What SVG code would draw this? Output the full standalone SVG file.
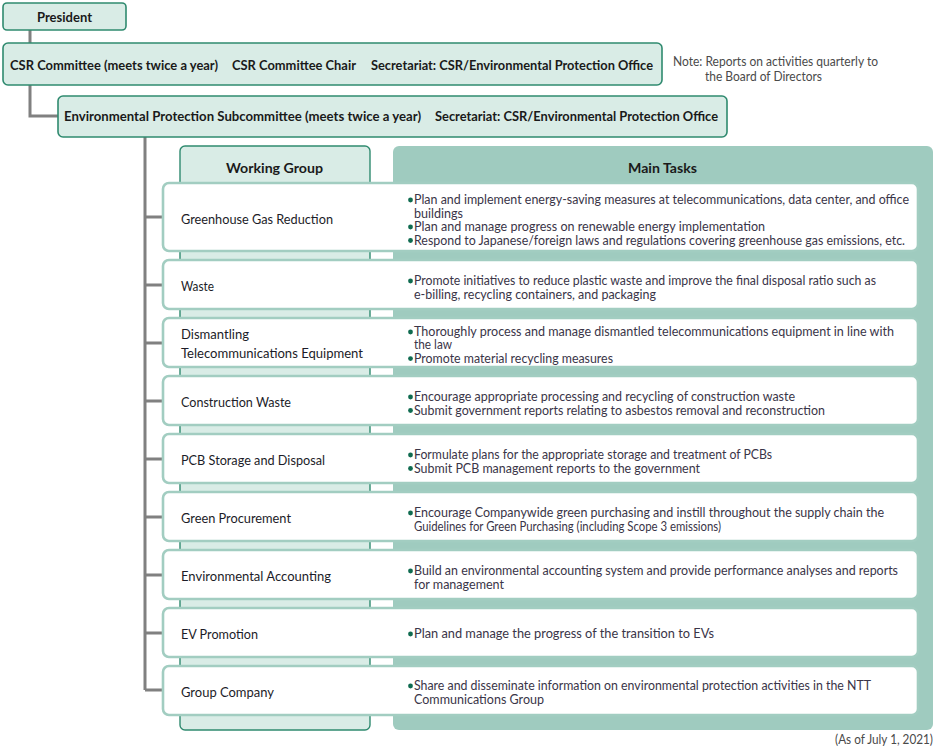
<svg xmlns="http://www.w3.org/2000/svg" width="938" height="752" viewBox="0 0 938 752">
<style>
.hbox{fill:#d9ece6;stroke:#2f8a6f;stroke-width:1.6}
.col{fill:#d9ece6;stroke:#2f8a6f;stroke-width:1.4}
.tcol{fill:#9fcbbf}
.card{fill:#ffffff;stroke:#a2cdc1;stroke-width:2.6}
.conn{fill:none;stroke:#808080;stroke-width:3}
text{font-family:Lato,"Liberation Sans",Arial,sans-serif}
.hb{font-size:13px;font-weight:bold;fill:#1a1a1a}
.hd{font-size:14px;font-weight:bold;fill:#1a1a1a}
.lab{font-size:14px;fill:#1c1c28}
.task{font-size:12.5px;fill:#3a3548}
.note{font-size:12.5px;fill:#4a4a4a}
.dot{fill:#0f6b50}
</style>

<g id="connectors">
<path class="conn" d="M30 30V43M30 85V116H58"/>
<path class="conn" d="M145 137V690M145 217H163M145 285H163M145 343H163M145 401H163M145 459H163M145 517H163M145 575H163M145 633H163M145 690H163"/>
</g>

<g id="president">
<rect class="hbox" x="3" y="3" width="123" height="27" rx="4"/>
<text class="hb" x="37" y="21.5" textLength="55" lengthAdjust="spacingAndGlyphs">President</text>
</g>

<g id="csr-committee">
<rect class="hbox" x="3" y="43" width="659" height="42" rx="5"/>
<text class="hb" x="10" y="70" textLength="208" lengthAdjust="spacingAndGlyphs">CSR Committee (meets twice a year)</text>
<text class="hb" x="232" y="70" textLength="124" lengthAdjust="spacingAndGlyphs">CSR Committee Chair</text>
<text class="hb" x="371" y="70" textLength="282" lengthAdjust="spacingAndGlyphs">Secretariat: CSR/Environmental Protection Office</text>
</g>

<g id="note">
<text class="note" x="673" y="65.5" textLength="205" lengthAdjust="spacingAndGlyphs">Note: Reports on activities quarterly to</text>
<text class="note" x="705" y="80.5" textLength="117" lengthAdjust="spacingAndGlyphs">the Board of Directors</text>
</g>

<g id="env-subcommittee">
<rect class="hbox" x="58" y="96" width="669" height="41" rx="5"/>
<text class="hb" x="64" y="121" textLength="357" lengthAdjust="spacingAndGlyphs">Environmental Protection Subcommittee (meets twice a year)</text>
<text class="hb" x="435" y="121" textLength="283" lengthAdjust="spacingAndGlyphs">Secretariat: CSR/Environmental Protection Office</text>
</g>

<g id="working-group-column">
<rect class="col" x="180" y="146" width="190" height="584" rx="5"/>
<text class="hd" x="226" y="173" textLength="97" lengthAdjust="spacingAndGlyphs">Working Group</text>
</g>

<g id="main-tasks-column">
<rect class="tcol" x="393" y="146" width="540" height="584" rx="6"/>
<text class="hd" x="628" y="173" textLength="69" lengthAdjust="spacingAndGlyphs">Main Tasks</text>
</g>

<g id="row-ghg">
<rect class="card" x="163" y="183" width="755" height="68" rx="6"/>
<text class="lab" x="181" y="223.5" textLength="152" lengthAdjust="spacingAndGlyphs">Greenhouse Gas Reduction</text>
<circle class="dot" cx="410.5" cy="200" r="2.4"/>
<text class="task" x="414" y="204" textLength="495" lengthAdjust="spacingAndGlyphs">Plan and implement energy-saving measures at telecommunications, data center, and office</text>
<text class="task" x="414" y="217.5" textLength="49" lengthAdjust="spacingAndGlyphs">buildings</text>
<circle class="dot" cx="410.5" cy="227" r="2.4"/>
<text class="task" x="414" y="231" textLength="351" lengthAdjust="spacingAndGlyphs">Plan and manage progress on renewable energy implementation</text>
<circle class="dot" cx="410.5" cy="240.5" r="2.4"/>
<text class="task" x="414" y="244.5" textLength="491" lengthAdjust="spacingAndGlyphs">Respond to Japanese/foreign laws and regulations covering greenhouse gas emissions, etc.</text>
</g>

<g id="row-waste">
<rect class="card" x="163" y="260" width="755" height="49" rx="6"/>
<text class="lab" x="181" y="291" textLength="33" lengthAdjust="spacingAndGlyphs">Waste</text>
<circle class="dot" cx="410.5" cy="281" r="2.4"/>
<text class="task" x="414" y="285" textLength="462" lengthAdjust="spacingAndGlyphs">Promote initiatives to reduce plastic waste and improve the final disposal ratio such as</text>
<text class="task" x="414" y="298.5" textLength="242" lengthAdjust="spacingAndGlyphs">e-billing, recycling containers, and packaging</text>
</g>

<g id="row-dismantling">
<rect class="card" x="163" y="318" width="755" height="49" rx="6"/>
<text class="lab" x="181" y="339" textLength="68" lengthAdjust="spacingAndGlyphs">Dismantling</text>
<text class="lab" x="181" y="358" textLength="182" lengthAdjust="spacingAndGlyphs">Telecommunications Equipment</text>
<circle class="dot" cx="410.5" cy="332" r="2.4"/>
<text class="task" x="414" y="336" textLength="480" lengthAdjust="spacingAndGlyphs">Thoroughly process and manage dismantled telecommunications equipment in line with</text>
<text class="task" x="414" y="349.3" textLength="38" lengthAdjust="spacingAndGlyphs">the law</text>
<circle class="dot" cx="410.5" cy="358.6" r="2.4"/>
<text class="task" x="414" y="362.6" textLength="199" lengthAdjust="spacingAndGlyphs">Promote material recycling measures</text>
</g>

<g id="row-construction">
<rect class="card" x="163" y="376" width="755" height="49" rx="6"/>
<text class="lab" x="181" y="407" textLength="110" lengthAdjust="spacingAndGlyphs">Construction Waste</text>
<circle class="dot" cx="410.5" cy="397" r="2.4"/>
<text class="task" x="414" y="401" textLength="381" lengthAdjust="spacingAndGlyphs">Encourage appropriate processing and recycling of construction waste</text>
<circle class="dot" cx="410.5" cy="410.5" r="2.4"/>
<text class="task" x="414" y="414.5" textLength="411" lengthAdjust="spacingAndGlyphs">Submit government reports relating to asbestos removal and reconstruction</text>
</g>

<g id="row-pcb">
<rect class="card" x="163" y="434" width="755" height="49" rx="6"/>
<text class="lab" x="181" y="465" textLength="144" lengthAdjust="spacingAndGlyphs">PCB Storage and Disposal</text>
<circle class="dot" cx="410.5" cy="455" r="2.4"/>
<text class="task" x="414" y="459" textLength="358" lengthAdjust="spacingAndGlyphs">Formulate plans for the appropriate storage and treatment of PCBs</text>
<circle class="dot" cx="410.5" cy="468.5" r="2.4"/>
<text class="task" x="414" y="472.5" textLength="286" lengthAdjust="spacingAndGlyphs">Submit PCB management reports to the government</text>
</g>

<g id="row-procurement">
<rect class="card" x="163" y="492" width="755" height="49" rx="6"/>
<text class="lab" x="181" y="523" textLength="110" lengthAdjust="spacingAndGlyphs">Green Procurement</text>
<circle class="dot" cx="410.5" cy="513" r="2.4"/>
<text class="task" x="414" y="517" textLength="470" lengthAdjust="spacingAndGlyphs">Encourage Companywide green purchasing and instill throughout the supply chain the</text>
<text class="task" x="414" y="530.5" textLength="307" lengthAdjust="spacingAndGlyphs">Guidelines for Green Purchasing (including Scope 3 emissions)</text>
</g>

<g id="row-accounting">
<rect class="card" x="163" y="550" width="755" height="49" rx="6"/>
<text class="lab" x="181" y="581" textLength="150" lengthAdjust="spacingAndGlyphs">Environmental Accounting</text>
<circle class="dot" cx="410.5" cy="571" r="2.4"/>
<text class="task" x="414" y="575" textLength="484" lengthAdjust="spacingAndGlyphs">Build an environmental accounting system and provide performance analyses and reports</text>
<text class="task" x="414" y="588.5" textLength="90" lengthAdjust="spacingAndGlyphs">for management</text>
</g>

<g id="row-ev">
<rect class="card" x="163" y="608" width="755" height="49" rx="6"/>
<text class="lab" x="181" y="638.5" textLength="77" lengthAdjust="spacingAndGlyphs">EV Promotion</text>
<circle class="dot" cx="410.5" cy="634" r="2.4"/>
<text class="task" x="414" y="638" textLength="300" lengthAdjust="spacingAndGlyphs">Plan and manage the progress of the transition to EVs</text>
</g>

<g id="row-group-company">
<rect class="card" x="163" y="666" width="755" height="49" rx="6"/>
<text class="lab" x="181" y="696.5" textLength="93" lengthAdjust="spacingAndGlyphs">Group Company</text>
<circle class="dot" cx="410.5" cy="686" r="2.4"/>
<text class="task" x="414" y="690" textLength="457" lengthAdjust="spacingAndGlyphs">Share and disseminate information on environmental protection activities in the NTT</text>
<text class="task" x="414" y="703.5" textLength="130" lengthAdjust="spacingAndGlyphs">Communications Group</text>
</g>

<text class="note" x="835" y="744" textLength="98" lengthAdjust="spacingAndGlyphs">(As of July 1, 2021)</text>
</svg>
